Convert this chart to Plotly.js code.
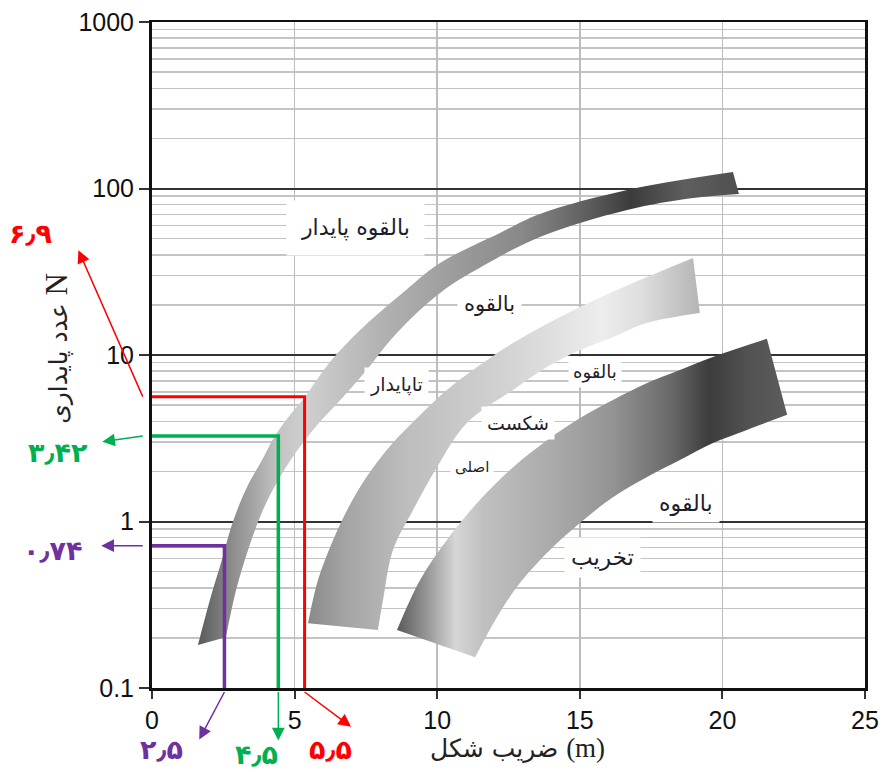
<!DOCTYPE html>
<html><head><meta charset="utf-8">
<script src="https://cdn.plot.ly/plotly-3.0.1.min.js"></script>
<style>body{margin:0;background:#fff}</style>
</head><body><div id="chart" style="width:884px;height:772px"></div>
<script>
// ---- data ----
const band1OuterX = [1.61, 2.03, 2.45, 2.84, 3.37, 3.86, 4.31, 4.84, 5.36, 6.24, 7.29, 8.70, 10.10, 12.20, 13.60, 16.66, 20.37];
const band1OuterY = [0.181, 0.338, 0.588, 1.0, 1.66, 2.34, 3.26, 4.36, 5.6, 9.08, 14.1, 22.9, 35.7, 54.1, 70.3, 98, 125.6];
const band1InnerX = [2.59, 2.95, 3.37, 3.86, 4.42, 5.05, 5.82, 6.70, 7.47, 8.52, 10.10, 11.85, 13.60, 16.66, 18.97, 20.58];
const band1InnerY = [0.202, 0.388, 0.675, 1.14, 1.77, 2.61, 3.85, 5.6, 7.9, 13.2, 23.6, 36.2, 51.2, 74.3, 87.7, 92.7];

const band2OuterX = [5.47, 5.82, 6.35, 6.94, 7.57, 8.35, 9.40, 10.34, 11.50, 12.66, 15.01, 17.36, 18.97];
const band2OuterY = [0.245, 0.445, 0.775, 1.26, 1.90, 2.84, 4.36, 6.17, 8.71, 11.8, 19.4, 29.4, 38.3];
const band2InnerX = [7.92, 8.10, 8.45, 9.15, 9.99, 11.04, 12.66, 13.85, 15.01, 16.16, 17.36, 19.21];
const band2InnerY = [0.223, 0.338, 0.675, 1.17, 2.12, 3.91, 6.17, 8.47, 10.7, 12.8, 15.6, 17.9];

const band3OuterX = [8.59, 9.40, 10.34, 11.50, 12.66, 13.85, 15.01, 16.16, 17.36, 18.51, 19.67, 21.56];
const band3OuterY = [0.223, 0.445, 0.775, 1.35, 2.12, 3.08, 4.19, 5.37, 6.79, 8.13, 9.73, 12.5];
const band3InnerX = [11.33, 12.10, 12.90, 14.06, 15.25, 16.16, 17.36, 18.51, 19.67, 20.86, 22.27];
const band3InnerY = [0.153, 0.267, 0.427, 0.703, 1.06, 1.40, 1.85, 2.34, 2.96, 3.55, 4.37];

const regionLabels = ['بالقوه پایدار', 'بالقوه', 'تاپایدار', 'بالقوه', 'شکست', 'اصلی', 'بالقوه', 'تخریب'];
const regionLabelX = [7.15, 11.85, 8.59, 15.53, 12.83, 11.22, 18.72, 15.81];
const regionLabelY = [57.9, 20.2, 6.61, 7.91, 3.91, 2.12, 1.29, 0.604];

const guideNames = ['purple', 'green', 'red'];
const guideX = [2.54, 4.43, 5.35];
const guideY = [0.716, 3.26, 5.62];
const guideTextX = ['۲٫۵', '۴٫۵', '۵٫۵'];
const guideTextY = ['۰٫۷۴', '۳٫۴۲', '۶٫۹'];

const xTicks = [0, 5, 10, 15, 20, 25];
const yTickVals = [0.1, 1, 10, 100, 1000];
const yTickText = ['0.1', '1', '10', '100', '1000'];

const xTitle = 'ضریب شکل <span style="font-family:Liberation Serif;font-size:27px">(m)</span>';
const yTitle = 'عدد پایداری <span style="font-family:Liberation Serif;font-size:31px">N</span>';

// ---- styling ----
const guideColors = ['#7030a0', '#00b050', '#ff0000'];
const guideWidths = [3.5, 3.5, 3];
const band1Scale = [[0,'#5a5a5a'],[0.06,'#8a8a8a'],[0.15,'#c4c4c4'],[0.2,'#cfcfcf'],[0.35,'#b0b0b0'],[0.5,'#989898'],[0.6,'#888888'],[0.7,'#666666'],[0.8,'#3c3c3c'],[0.9,'#5e5e5e'],[1,'#505050']];
const band2Scale = [[0,'#8a8a8a'],[0.1,'#a5a5a5'],[0.25,'#bdbdbd'],[0.5,'#d2d2d2'],[0.75,'#ededed'],[0.85,'#dedede'],[1,'#b5b5b5']];
const band3Scale = [[0,'#5a5a5a'],[0.08,'#999999'],[0.15,'#d6d6d6'],[0.22,'#c0c0c0'],[0.4,'#aaaaaa'],[0.55,'#949494'],[0.7,'#6a6a6a'],[0.8,'#3c3c3c'],[0.9,'#525252'],[1,'#5c5c5c']];

function band(ox, oy, ix, iy, scale) {
  const inner = {
    type: 'scatter', mode: 'lines', x: ix, y: iy,
    line: {width: 0, color: 'rgba(0,0,0,0)', shape: 'spline', smoothing: 1},
    hoverinfo: 'skip', showlegend: false
  };
  const outer = {
    type: 'scatter', mode: 'lines', x: ox, y: oy,
    fill: 'tonexty',
    fillgradient: {type: 'horizontal', colorscale: scale},
    line: {width: 0, color: 'rgba(0,0,0,0)', shape: 'spline', smoothing: 1},
    hoverinfo: 'skip', showlegend: false
  };
  return [inner, outer];
}

const traces = [].concat(
  band(band1OuterX, band1OuterY, band1InnerX, band1InnerY, band1Scale),
  band(band2OuterX, band2OuterY, band2InnerX, band2InnerY, band2Scale),
  band(band3OuterX, band3OuterY, band3InnerX, band3InnerY, band3Scale)
);
guideX.forEach((gx, i) => {
  traces.push({
    type: 'scatter', mode: 'lines',
    x: [0, gx, gx], y: [guideY[i], guideY[i], yTickVals[0]],
    line: {color: guideColors[i], width: guideWidths[i]},
    hoverinfo: 'skip', showlegend: false, cliponaxis: false
  });
});

const persianFont = 'DejaVu Sans, Noto Sans, sans-serif';
const annotations = [];
const pads = [14, 6, 5, 4, 5, 4, 6, 6];
const sizes = [22, 21, 19, 18, 19, 15, 22, 23];
regionLabels.forEach((t, i) => {
  annotations.push({
    xref: 'x', yref: 'y', x: regionLabelX[i], y: Math.log10(regionLabelY[i]),
    text: t, showarrow: false, bgcolor: '#ffffff', borderpad: pads[i],
    font: {family: persianFont, size: sizes[i], color: '#1e1e2a'}
  });
});

// arrows: left arrows from y-values, bottom arrows from x-values
const leftAx = [-43, -42, -65];
const leftAy = [0, 6, -148];
const bottomAx = [-26, 0, 48];
const bottomAy = [49, 50, 36];
const arrowCommon = {
  text: '', showarrow: true, arrowside: 'start',
  startarrowhead: 2, startarrowsize: 1.7, arrowwidth: 1.5,
  axref: 'pixel', ayref: 'pixel'
};
guideX.forEach((gx, i) => {
  annotations.push(Object.assign({}, arrowCommon, {
    xref: 'paper', yref: 'y', x: -0.013, y: Math.log10(guideY[i]),
    ax: leftAx[i], ay: leftAy[i], arrowcolor: guideColors[i]
  }));
  annotations.push(Object.assign({}, arrowCommon, {
    xref: 'x', yref: 'paper', x: gx, y: -0.006,
    ax: bottomAx[i], ay: bottomAy[i], arrowcolor: guideColors[i]
  }));
});
// number labels
const yLabelPos = [[-0.139, 0.207], [-0.132, 0.354], [-0.170, 0.683]];
const xLabelPos = [[0.014, -0.093], [0.146, -0.100], [0.251, -0.093]];
guideX.forEach((gx, i) => {
  annotations.push({
    xref: 'paper', yref: 'paper', x: yLabelPos[i][0], y: yLabelPos[i][1],
    xanchor: 'center', yanchor: 'middle',
    text: '<b>' + guideTextY[i] + '</b>', showarrow: false,
    font: {family: persianFont, size: 27, color: guideColors[i]}
  });
  annotations.push({
    xref: 'paper', yref: 'paper', x: xLabelPos[i][0], y: xLabelPos[i][1],
    xanchor: 'center', yanchor: 'middle',
    text: '<b>' + guideTextX[i] + '</b>', showarrow: false,
    font: {family: persianFont, size: 27, color: guideColors[i]}
  });
});
// axis titles
annotations.push({
  xref: 'paper', yref: 'paper', x: -0.134, y: 0.51, xanchor: 'center', yanchor: 'middle',
  textangle: -90, text: yTitle, showarrow: false,
  font: {family: persianFont, size: 25, color: '#222'}
});
annotations.push({
  xref: 'paper', yref: 'paper', x: 0.512, y: -0.09, xanchor: 'center', yanchor: 'middle',
  text: xTitle, showarrow: false,
  font: {family: persianFont, size: 25, color: '#222'}
});

const layout = {
  width: 884, height: 772,
  margin: {l: 152, r: 19, t: 22, b: 84},
  paper_bgcolor: '#ffffff', plot_bgcolor: '#ffffff',
  showlegend: false,
  font: {family: 'Liberation Sans, Arial, sans-serif', color: '#111'},
  xaxis: {
    range: [0, 25], tickmode: 'array', tickvals: xTicks,
    showgrid: true, gridcolor: '#bdbdbd', gridwidth: 1.5,
    zeroline: false, showline: true, mirror: true, linecolor: '#111', linewidth: 2.5,
    ticks: 'outside', ticklen: 8, tickwidth: 2, tickcolor: '#333',
    tickfont: {family: 'Liberation Sans, Arial, sans-serif', size: 25, color: '#111'}
  },
  yaxis: {
    type: 'log', range: [-1, 3], tickmode: 'array', tickvals: yTickVals, ticktext: yTickText,
    showgrid: true, gridcolor: '#333333', gridwidth: 2,
    minor: {dtick: 'D1', showgrid: true, gridcolor: '#c4c4c4', gridwidth: 1.5, ticks: ''},
    zeroline: false, showline: true, mirror: true, linecolor: '#111', linewidth: 3,
    ticks: 'outside', ticklen: 10, tickwidth: 2, tickcolor: '#333',
    tickfont: {family: 'Liberation Sans, Arial, sans-serif', size: 25, color: '#111'}
  },
  annotations: annotations
};

Plotly.newPlot('chart', traces, layout, {displayModeBar: false, staticPlot: true});
</script>
</body></html>
